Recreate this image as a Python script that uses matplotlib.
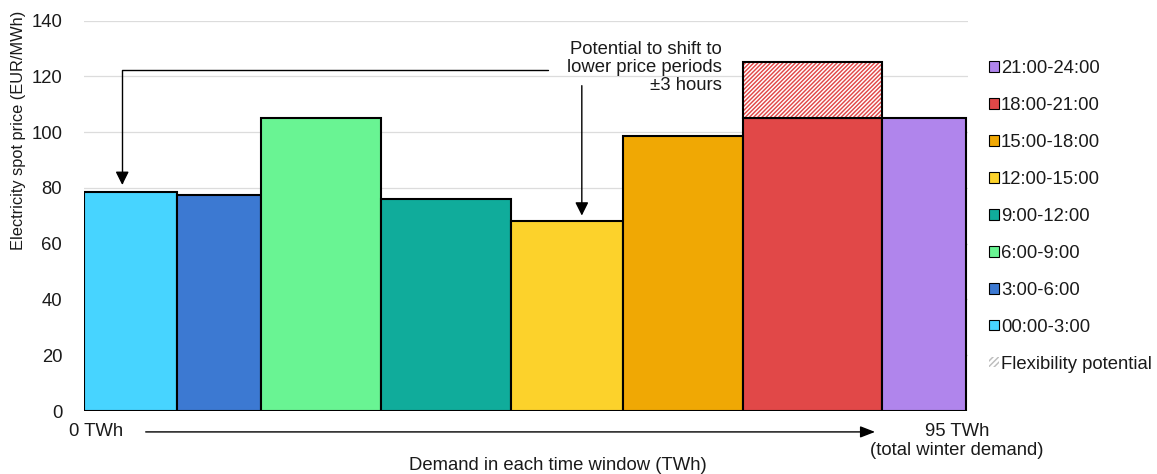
import numpy as np
import matplotlib
matplotlib.use("Agg")
import matplotlib.pyplot as plt
from matplotlib.patches import Patch

# Winter demand per three-hour window and its average spot price
windows = ["00:00-3:00", "3:00-6:00", "6:00-9:00", "9:00-12:00",
           "12:00-15:00", "15:00-18:00", "18:00-21:00", "21:00-24:00"]
demand_twh = [10, 9, 13, 14, 12, 13, 15, 9]
price_eur_mwh = [78.5, 77.5, 105, 76, 68, 98.5, 105, 105]

# Extra price in the evening peak that flexible demand could avoid
flex_window = "18:00-21:00"
flex_extra = 20.3

y_ticks = [0, 20, 40, 60, 80, 100, 120, 140]

colors = ["#47D4FF", "#3C79D2", "#69F493", "#10AC9B",
          "#FCD22B", "#F0A804", "#E14848", "#B085EC"]
flex_color = "#E14848"

plt.rcParams["font.family"] = ["Liberation Sans", "DejaVu Sans"]
plt.rcParams["hatch.linewidth"] = 1.05
FS = 13.3
TXT = "#1a1a1a"

fig = plt.figure(figsize=(11.57, 4.74), dpi=100)
ax = fig.add_axes([0.0730, 0.1329, 0.7635, 0.8234])

widths = np.array(demand_twh, dtype=float)
lefts = np.concatenate([[0.0], np.cumsum(widths)[:-1]])
total = widths.sum()

ax.bar(lefts, price_eur_mwh, width=widths, align="edge", color=colors,
       edgecolor="black", linewidth=1.5, zorder=3)

i_flex = windows.index(flex_window)
# hatched flexibility block: stripes first, then a black outline on top
ax.bar(lefts[i_flex], flex_extra, width=widths[i_flex], bottom=price_eur_mwh[i_flex],
       align="edge", facecolor="white", edgecolor=flex_color, hatch="////////",
       linewidth=0, zorder=3)
ax.bar(lefts[i_flex], flex_extra, width=widths[i_flex], bottom=price_eur_mwh[i_flex],
       align="edge", facecolor="none", edgecolor="black", linewidth=1.5, zorder=4)

ax.set_xlim(0, total + 0.2)
ax.set_ylim(0, 140)
ax.set_yticks(y_ticks)
ax.set_yticklabels([str(t) for t in y_ticks], fontsize=FS, color=TXT)
ax.set_xticks([])
ax.tick_params(axis="y", length=0, pad=16)
ax.grid(axis="y", color="#dcdcdc", linewidth=0.9, zorder=0)
ax.set_axisbelow(True)
for s in ax.spines.values():
    s.set_visible(False)

ax.set_ylabel("Electricity spot price (EUR/MWh)", fontsize=11.8, color=TXT)
ax.yaxis.set_label_coords(-0.066, 0.72)

# demand axis underneath the bars
ax.text(1.3, -7.5, "0 TWh", ha="center", va="center", fontsize=FS, color=TXT, clip_on=False)
ax.annotate("", xy=(85.2, -7.5), xytext=(6.6, -7.5), xycoords="data",
            arrowprops=dict(arrowstyle="-|>,head_length=0.9,head_width=0.35",
                            color="black", lw=1, mutation_scale=10, shrinkA=0, shrinkB=0),
            annotation_clip=False)
ax.text(94.0, -7.4, "95 TWh", ha="center", va="center", fontsize=FS, color=TXT, clip_on=False)
ax.text(94.0, -14.2, "(total winter demand)", ha="center", va="center", fontsize=FS,
        color=TXT, clip_on=False)
ax.text(51.0, -19.6, "Demand in each time window (TWh)", ha="center", va="center",
        fontsize=FS, color=TXT, clip_on=False)

# shifting annotation
ax.text(68.7, 123.2, "Potential to shift to\nlower price periods\n\u00b13 hours",
        ha="right", va="center", fontsize=FS, color=TXT, linespacing=1.1)
ax.annotate("", xy=(4.07, 81.1), xytext=(49.95, 122.2),
            arrowprops=dict(arrowstyle="-|>,head_length=0.8,head_width=0.4",
                            connectionstyle="angle,angleA=0,angleB=90,rad=0",
                            color="black", lw=1, mutation_scale=10, shrinkA=0, shrinkB=0))
ax.annotate("", xy=(53.6, 70.1), xytext=(53.6, 116.7),
            arrowprops=dict(arrowstyle="-|>,head_length=0.8,head_width=0.4",
                            color="black", lw=1, mutation_scale=10, shrinkA=0, shrinkB=0))

# legend: latest window on top, flexibility last
handles = [Patch(facecolor=c, edgecolor="black", linewidth=0.8, label=w)
           for w, c in zip(windows, colors)][::-1]
handles.append(Patch(facecolor="white", edgecolor="#bdbdbd", hatch="//////",
                     linewidth=0, label="Flexibility potential"))
fig.legend(handles=handles, loc="upper left", bbox_to_anchor=(989 / 1157, 1 - 60 / 474),
           bbox_transform=fig.transFigure, frameon=False, fontsize=FS,
           handlelength=0.52, handleheight=0.52, handletextpad=0.12,
           labelspacing=1.08, borderpad=0, borderaxespad=0, labelcolor=TXT)

fig.savefig("out.png", dpi=100)
